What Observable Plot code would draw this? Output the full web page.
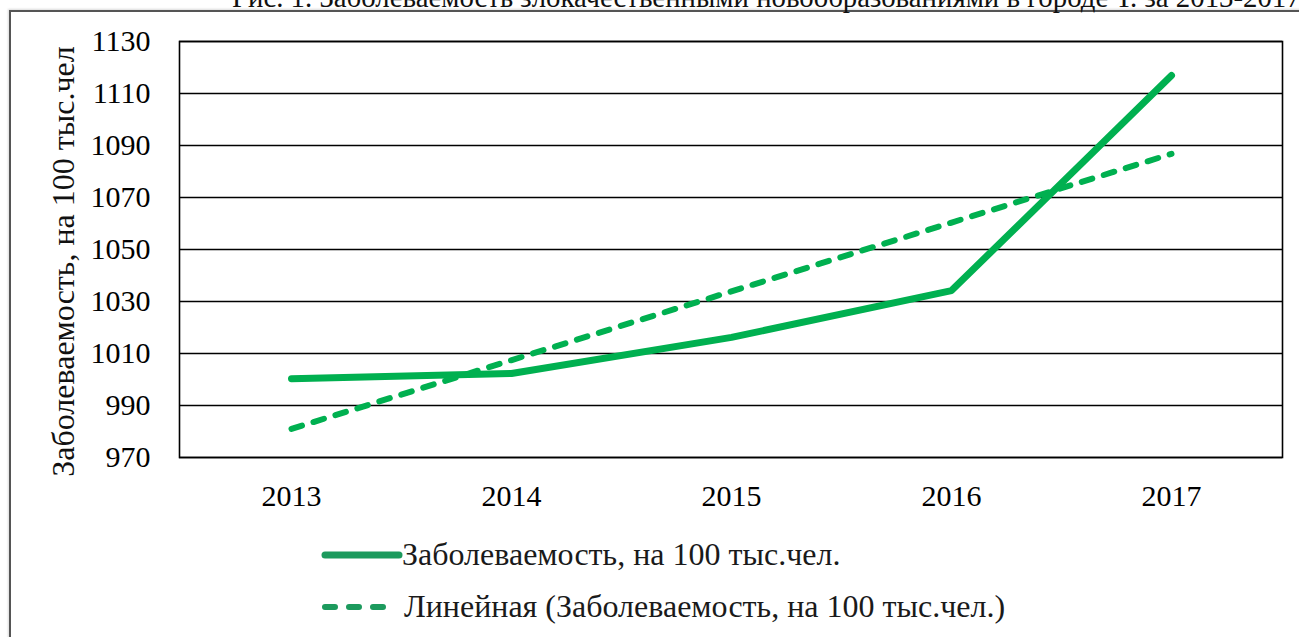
<!DOCTYPE html>
<html>
<head>
<meta charset="utf-8">
<script src="https://cdn.jsdelivr.net/npm/d3@7"></script>
<script src="https://cdn.jsdelivr.net/npm/@observablehq/plot@0.6"></script>
<style>
  html, body { margin: 0; padding: 0; background: #fff; }
  body { width: 1299px; height: 637px; overflow: hidden; position: relative;
         font-family: "Liberation Serif", "Times New Roman", serif; color: #111; }
  #frame { position: absolute; left: 9px; top: 10px; width: 1320px; height: 660px;
           border-left: 2px solid #555; border-top: 2px solid #555;
           box-shadow: -1px -1px 2px rgba(0,0,0,0.15); }
  #title { position: absolute; left: 232px; top: -17px; font-size: 28.8px; line-height: 28.8px;
           white-space: nowrap; color: #111; }
  #chart { position: absolute; left: 0; top: 0; }
  #legend { position: absolute; left: 0; top: 525px; width: 1299px; height: 112px; }
  .lg-row { position: absolute; font-size: 32px; line-height: 32px; white-space: nowrap; color: #1a1a1a; }
  .lg-swatch { position: absolute; }
</style>
</head>
<body>
<div id="frame"></div>
<div id="title"></div>
<div id="chart"></div>
<div id="legend">
  <svg class="lg-swatch" style="left:321px;top:22px" width="82" height="16">
    <line x1="4" x2="78" y1="8" y2="8" stroke="#1c9a5d" stroke-width="7" stroke-linecap="round"></line>
  </svg>
  <svg class="lg-swatch" style="left:321px;top:74px" width="70" height="16">
    <line x1="4" x2="66" y1="8" y2="8" stroke="#1c9a5d" stroke-width="6" stroke-linecap="round" stroke-dasharray="10,14"></line>
  </svg>
</div>
<script>
// ---- data ----
const years = ["2013", "2014", "2015", "2016", "2017"];
const incidence = [1000.3, 1002.3, 1016.2, 1034.2, 1116.9];
const trendYears = ["2013", "2017"];
const trendValues = [981.0, 1086.8];
const yTicks = [970, 990, 1010, 1030, 1050, 1070, 1090, 1110, 1130];
const yLabel = "Заболеваемость, на 100 тыс.чел";
const seriesName = "Заболеваемость, на 100 тыс.чел.";
const trendName = "Линейная (Заболеваемость, на 100 тыс.чел.)";
const titleText = "Рис. 1. Заболеваемость злокачественными новообразованиями в городе  Т. за 2013-2017";

const green = "#00b050";
const mainData = years.map((y, i) => ({year: y, value: incidence[i]}));
const trendData = trendYears.map((y, i) => ({year: y, value: trendValues[i]}));

document.getElementById("title").textContent = titleText;

const chart = Plot.plot({
  width: 1299,
  height: 525,
  marginTop: 41,
  marginLeft: 179,
  marginRight: 17,
  marginBottom: 68,
  style: {fontFamily: "'Liberation Serif', 'Times New Roman', serif", background: "transparent", color: "#000"},
  x: {type: "point", domain: years, padding: 0.5, label: null},
  y: {domain: [970, 1130], label: null},
  marks: [
    Plot.ruleY(yTicks, {stroke: "#000", strokeWidth: 1.6}),
    Plot.frame({stroke: "#000", strokeWidth: 1.6}),
    Plot.axisY(yTicks, {tickSize: 0, tickPadding: 29, fontSize: 30, fill: "#000", label: null,
      tickFormat: d => String(d)}),
    Plot.axisX({tickSize: 0, tickPadding: 27, fontSize: 30, fill: "#000", label: null}),
    Plot.text([yLabel], {text: d => d, frameAnchor: "left", dx: -116, dy: 12, rotate: -90,
      fontSize: 32, textAnchor: "middle", lineAnchor: "middle", fill: "#111"}),
    Plot.line(mainData, {x: "year", y: "value", stroke: green, strokeWidth: 7,
      strokeLinecap: "round", strokeLinejoin: "round"}),
    Plot.line(trendData, {x: "year", y: "value", stroke: green, strokeWidth: 6,
      strokeDasharray: "11,12", strokeLinecap: "round"})
  ]
});
document.getElementById("chart").appendChild(chart);

// ---- legend labels ----
const legend = document.getElementById("legend");
function row(left, top, text) {
  const d = document.createElement("div");
  d.className = "lg-row"; d.style.left = left + "px"; d.style.top = top + "px";
  d.textContent = text;
  legend.appendChild(d);
}
row(402, 13, seriesName);
row(404, 65, trendName);
</script>
</body>
</html>
